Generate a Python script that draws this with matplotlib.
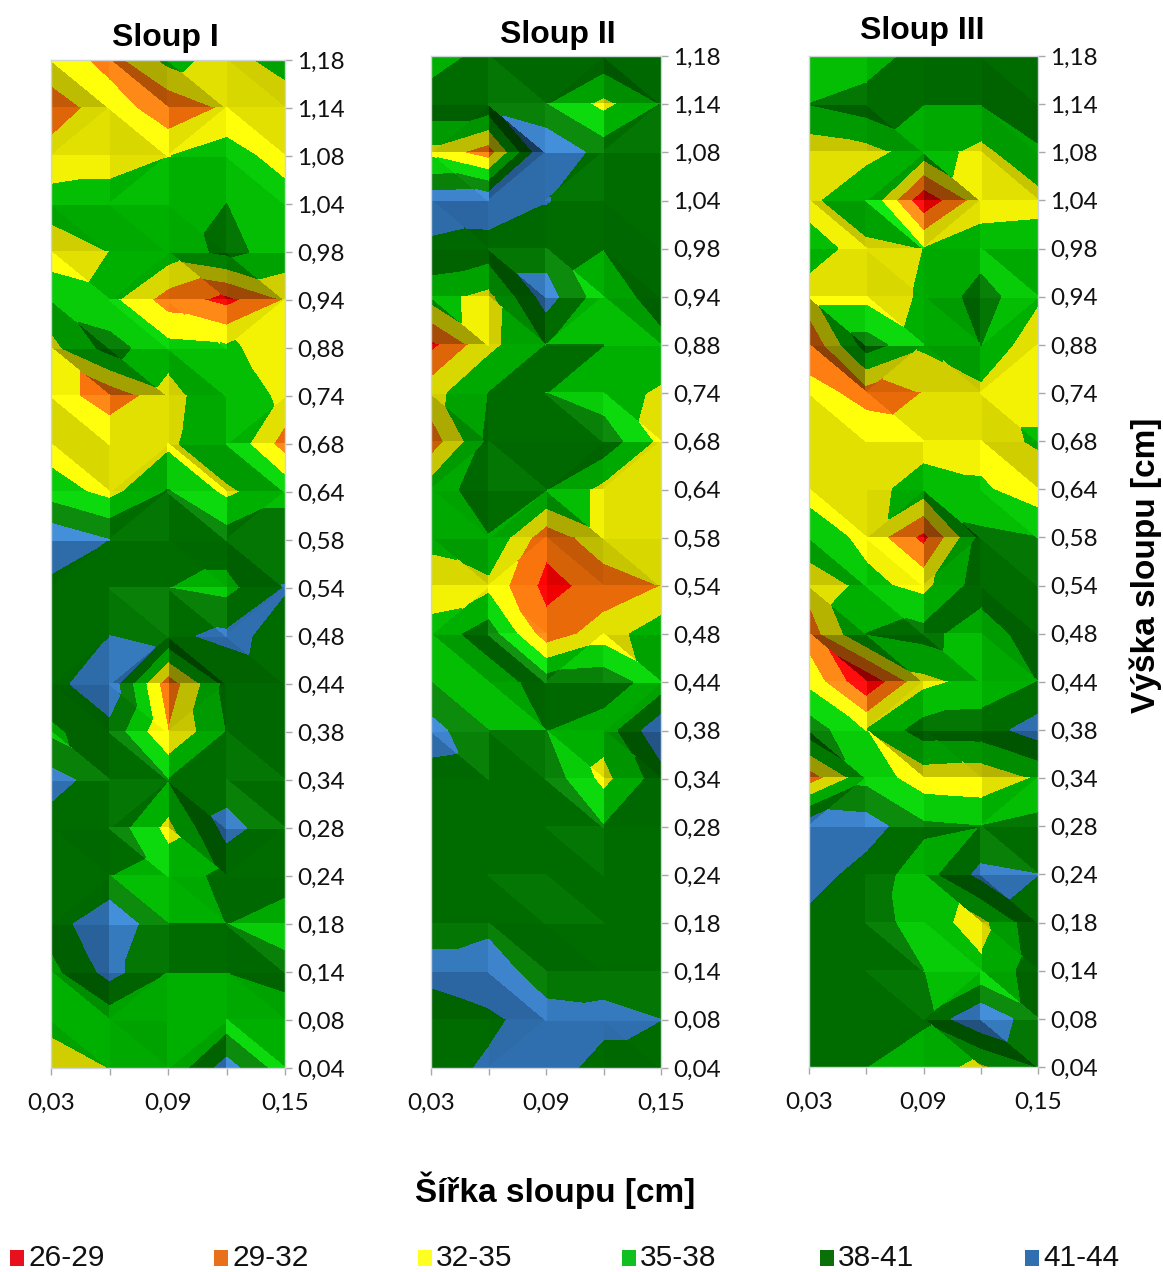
import numpy as np
import matplotlib
matplotlib.use("Agg")
import matplotlib.pyplot as plt
import matplotlib.tri as mtri
from matplotlib.patches import Rectangle

widths = [0.03, 0.06, 0.09, 0.12, 0.15]
heights = ["1,18", "1,14", "1,08", "1,04", "0,98", "0,94", "0,88", "0,74", "0,68", "0,64", "0,58",
           "0,54", "0,48", "0,44", "0,38", "0,34", "0,28", "0,24", "0,18", "0,14", "0,08", "0,04"]
levels = [26, 29, 32, 35, 38, 41, 44]
band_labels = ["26-29", "29-32", "32-35", "35-38", "38-41", "41-44"]
band_colors = ["#f00000", "#e86a08", "#e2e000", "#00b000", "#006c00", "#2f6fb0"]
legend_colors = ["#e8101c", "#e8701a", "#ffff20", "#10c020", "#0a700a", "#3070b0"]

# values per row, top row first
sloup_1 = [
    [34.5, 30.5, 35.8, 34, 36],
    [29.7, 34, 29.5, 32.5, 33.5],
    [33.5, 33.5, 34.9, 36.5, 33.5],
    [36, 36.5, 37, 38, 36.5],
    [33.5, 35, 36.5, 38.6, 37],
    [37, 35.8, 30.5, 28, 32.1],
    [34, 39.1, 36, 35.5, 33.5],
    [34, 29.8, 34, 37, 34.3],
    [33.5, 34.9, 34.3, 37.8, 30.5],
    [36.5, 34, 38.2, 34.3, 37.2],
    [43.3, 41, 39.5, 39.5, 39.5],
    [40, 40, 38, 37, 41.1],
    [40.3, 41, 40.4, 41.6, 40.2],
    [40, 43, 30, 38.8, 40],
    [37.3, 40, 32, 38, 40],
    [42.2, 39.3, 38, 39.5, 39.5],
    [39.5, 39.9, 34, 42, 39],
    [38.3, 38, 36.8, 38.6, 39.5],
    [39.2, 43.8, 38, 38, 36],
    [37, 42, 38, 38, 39.5],
    [36, 36, 37.5, 36, 35.8],
    [33, 35, 35.3, 42.4, 36],
]
sloup_2 = [
    [36, 39.3, 39.5, 40, 40],
    [40, 40, 38, 34.1, 38],
    [33.9, 30.3, 43.9, 39.6, 39.5],
    [42.8, 43, 41.1, 39.8, 39.8],
    [40.3, 39.6, 39.6, 38, 39.5],
    [36, 34, 42.3, 36, 39.4],
    [28.1, 34.1, 38, 38, 37],
    [33.8, 38, 38, 36.3, 34.5],
    [30.1, 38.4, 39.5, 39.85, 34.1],
    [36.5, 39.5, 38, 34, 34],
    [35.7, 37.8, 29.9, 34, 34],
    [33.5, 34.1, 28, 30.1, 32],
    [36, 39.6, 30.2, 33.5, 36.8],
    [38, 36, 39.5, 40, 36],
    [42.2, 38, 38, 36.1, 43.4],
    [40, 39.6, 40, 34, 39.5],
    [39.5, 39.6, 39.7, 38.1, 39.5],
    [39.5, 39.5, 39.5, 39.5, 39.5],
    [40, 40, 41, 39.8, 39.5],
    [41.8, 43, 39, 39.5, 39.5],
    [39.3, 40.3, 42.5, 42, 41],
    [39.5, 41.5, 42.8, 39.5, 39.5],
]
sloup_3 = [
    [36, 36, 39.5, 40, 40],
    [38, 39.5, 38, 38, 40],
    [33, 33.8, 36.5, 34, 37.5],
    [34.1, 37.8, 26.5, 33.5, 33.8],
    [36, 34, 35, 36.5, 36.8],
    [34, 34, 35.2, 39.3, 35.5],
    [29.1, 39.4, 35.5, 38, 32.5],
    [33.6, 30.5, 32.05, 34, 34],
    [34, 34.5, 33.7, 33.6, 35.4],
    [33.8, 33.8, 36.4, 35.5, 33],
    [36.9, 34.1, 28, 38.7, 38],
    [33, 35.8, 34, 39.5, 39.3],
    [30.3, 38, 39, 36.1, 39.8],
    [34.1, 26.2, 34.1, 36, 38],
    [39.6, 35, 39.3, 39.5, 42.4],
    [30.2, 37, 33.2, 32.8, 35.3],
    [43, 42.5, 38.5, 38, 39],
    [42.5, 39.5, 36.5, 41.8, 41],
    [40, 40, 36, 34, 40.2],
    [39.5, 39.5, 38, 35.5, 39.5],
    [39.5, 39.5, 38.5, 43.5, 39],
    [39.5, 38, 36, 34.3, 38],
]

plt.rcParams['font.family'] = ['Liberation Sans', 'DejaVu Sans']
W, H = 1163, 1272
fig = plt.figure(figsize=(W / 100, H / 100), dpi=100)


def shaded(color, s):
    rgb = np.array(matplotlib.colors.to_rgb(color))
    if s >= 1:
        s = 1 + (s - 1) * 1.4
        out = rgb * s + (s - 1) * 0.3
    else:
        out = rgb * s
    return tuple(np.clip(out, 0, 1))


def draw_contour(ax, values):
    z = np.array(values, dtype=float)[::-1]  # row 0 = bottom
    ny, nx = z.shape
    cx, cy = np.meshgrid(np.arange(nx), np.arange(ny))
    zr = z.ravel()
    tris = []
    for j in range(ny - 1):
        for i in range(nx - 1):
            bl, br = j * nx + i, j * nx + i + 1
            tl, tr = (j + 1) * nx + i, (j + 1) * nx + i + 1
            # diagonal goes top-left to bottom-right unless the other one isolates a peak
            if abs(zr[bl] - zr[tr]) < abs(zr[tl] - zr[br]) - 1:
                tris.append([bl, br, tr])
                tris.append([bl, tr, tl])
            else:
                tris.append([tl, bl, br])
                tris.append([tl, br, tr])
    tris = np.array(tris)
    xs = np.array(widths)[cx.ravel()]

    # facet shading from a light at the top right
    px, py = cx.ravel().astype(float), cy.ravel().astype(float)
    shade = []
    for a, b, c in tris:
        m = np.array([[px[b] - px[a], py[b] - py[a]], [px[c] - px[a], py[c] - py[a]]])
        gx, gy = np.linalg.solve(m, [zr[b] - zr[a], zr[c] - zr[a]])
        n = np.array([-gx * 0.04, -gy * 0.04, 1.0])
        n = n / np.linalg.norm(n)
        shade.append(n @ np.array([0.35, 0.35, 0.87]) / 0.87)
    shade = np.round(np.array(shade) / 0.04) * 0.04

    for s in np.unique(shade):
        t = mtri.Triangulation(xs, py, tris, mask=shade != s)
        cs = ax.tricontourf(t, zr, levels=levels, colors=[shaded(col, s) for col in band_colors])
        cs.set_edgecolor('face')
        cs.set_linewidth(0.5)


panels = [
    ("Sloup I", sloup_1, 51, 285, 60, 1068, 165, 38),
    ("Sloup II", sloup_2, 431, 661, 56, 1068, 558, 35),
    ("Sloup III", sloup_3, 809, 1038, 56, 1067, 922, 31),
]
for title, values, x0, x1, y0, y1, tx, ty in panels:
    ax = fig.add_axes([x0 / W, 1 - y1 / H, (x1 - x0) / W, (y1 - y0) / H])
    draw_contour(ax, values)
    ax.set_xlim(widths[0], widths[-1])
    ax.set_ylim(0, len(heights) - 1)
    ax.set_xticks(widths)
    ax.set_xticklabels(["0,03", "", "0,09", "", "0,15"], fontsize=17.5, family=['Lato'])
    ax.set_yticks(range(len(heights)))
    ax.set_yticklabels(heights[::-1], fontsize=17.5, family=['Lato'])
    ax.yaxis.tick_right()
    ax.tick_params(axis='both', length=5, width=1, color='#a8a8a8', labelcolor='#111111')
    ax.tick_params(axis='y', pad=4)
    ax.tick_params(axis='x', pad=13)
    for side in ax.spines.values():
        side.set_color('#cfd4d8')
        side.set_linewidth(1)
    fig.text(tx / W, 1 - ty / H, title, fontsize=23, fontweight='bold', ha='center', va='center')

fig.text(555 / W, 1 - 1190 / H, "Šířka sloupu [cm]", fontsize=24, fontweight='bold', ha='center', va='center')
fig.text(1146 / W, 1 - 565 / H, "Výška sloupu [cm]", fontsize=24, fontweight='bold', rotation=90,
         ha='center', va='center')

legend_x = [10, 214, 418, 622, 820, 1025]
for lx, lab, col in zip(legend_x, band_labels, legend_colors):
    fig.add_artist(Rectangle((lx / W, 1 - 1266 / H), 14 / W, 16 / H, transform=fig.transFigure,
                             facecolor=col, edgecolor='none'))
    fig.text((lx + 18) / W, 1 - 1258 / H, lab, fontsize=21.5, ha='left', va='center', color='#111111')

fig.savefig("out.png", dpi=100)
